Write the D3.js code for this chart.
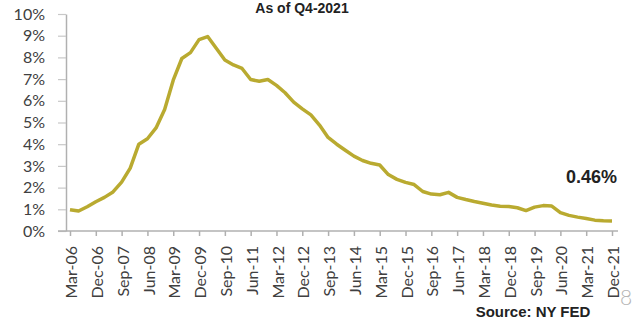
<!DOCTYPE html>
<html>
<head>
<meta charset="utf-8">
<script src="https://cdn.jsdelivr.net/npm/d3@7"></script>
<style>
  body { margin: 0; background: #fff; }
  svg { display: block; }
</style>
</head>
<body>
<div id="VizBox"></div>
<script>

// quarters Mar-06 .. Dec-21
var years = ["06","07","08","09","10","11","12","13","14","15","16","17","18","19","20","21"];
var months = ["Mar","Jun","Sep","Dec"];

// delinquency rate, %
var rates = [
  0.98, 0.92, 1.12, 1.35, 1.55, 1.80, 2.25, 2.90, 4.00, 4.25, 4.75, 5.60, 6.95, 7.95, 8.22, 8.82,
  8.96, 8.42, 7.88, 7.65, 7.49, 6.98, 6.90, 6.98, 6.71, 6.37, 5.94, 5.63, 5.35, 4.88, 4.31, 4.00,
  3.72, 3.45, 3.25, 3.12, 3.04, 2.60, 2.38, 2.24, 2.14, 1.82, 1.70, 1.67, 1.78, 1.55, 1.45, 1.36,
  1.28, 1.20, 1.14, 1.13, 1.07, 0.94, 1.10, 1.17, 1.15, 0.85, 0.72, 0.64, 0.58, 0.50, 0.47, 0.46
];

var yTicks = [0, 1, 2, 3, 4, 5, 6, 7, 8, 9, 10];
var xTickLabels = ["Mar-06","Dec-06","Sep-07","Jun-08","Mar-09","Dec-09","Sep-10","Jun-11",
  "Mar-12","Dec-12","Sep-13","Jun-14","Mar-15","Dec-15","Sep-16","Jun-17","Mar-18","Dec-18",
  "Sep-19","Jun-20","Mar-21","Dec-21"];

var quarters = [];
years.forEach(function(y) { months.forEach(function(m) { quarters.push(m + "-" + y); }); });

var data = quarters.map(function(q, i) { return {q: q, i: i, v: rates[i]}; });

var W = 636, H = 326;
var svg = d3.select("#VizBox").append("svg")
  .attr("width", W).attr("height", H);

var x = d3.scaleLinear().domain([0, quarters.length - 1]).range([70, 612]);
var y = d3.scaleLinear().domain([0, 10]).range([231, 14]);

var axisCol = "#b0b0b0";
var textCol = "#404040";

// Y axis
var yAxis = svg.append("g")
  .attr("transform", "translate(66,0)")
  .call(d3.axisLeft(y).tickValues(yTicks).tickSizeInner(8).tickSizeOuter(0).tickPadding(13)
    .tickFormat(function(d) { return d + "%"; }));
yAxis.select(".domain").attr("stroke", axisCol).attr("stroke-width", 1.5);
yAxis.selectAll(".tick line").attr("stroke", "#c8c8c8").attr("stroke-width", 1.2);
yAxis.selectAll("text")
  .attr("fill", textCol)
  .style("font-family", "Lato, 'Open Sans', sans-serif")
  .style("font-size", "16px");

// X axis
var tickIdx = xTickLabels.map(function(l) { return quarters.indexOf(l); });
var xAxis = svg.append("g")
  .attr("transform", "translate(0," + y(0) + ")")
  .call(d3.axisBottom(x).tickValues(tickIdx).tickSizeInner(5).tickSizeOuter(0)
    .tickFormat(function(d) { return quarters[d]; }));
xAxis.select(".domain").remove();
xAxis.selectAll(".tick line").attr("stroke", axisCol).attr("stroke-width", 1.5);
xAxis.selectAll("text")
  .attr("fill", textCol)
  .style("font-family", "Lato, 'Open Sans', sans-serif")
  .style("font-size", "16px")
  .attr("text-anchor", "end")
  .attr("transform", "rotate(-90)")
  .attr("x", -15).attr("y", 1).attr("dy", "0.35em");
svg.append("line")
  .attr("x1", 58).attr("x2", x(quarters.length - 1) + 6)
  .attr("y1", y(0)).attr("y2", y(0))
  .attr("stroke", axisCol).attr("stroke-width", 1.5);

// line
var line = d3.line()
  .x(function(d) { return x(d.i); })
  .y(function(d) { return y(d.v); });

svg.append("path")
  .datum(data)
  .attr("fill", "none")
  .attr("stroke", "#b9aa30")
  .attr("stroke-width", 3.5)
  .attr("stroke-linejoin", "round")
  .attr("d", line);

// texts
svg.append("text")
  .attr("x", 302).attr("y", 13)
  .attr("text-anchor", "middle")
  .style("font-family", "'Liberation Sans', Arial, sans-serif")
  .style("font-weight", "bold")
  .style("font-size", "14px")
  .attr("fill", "#222")
  .text("As of Q4-2021");

var last = data[data.length - 1];
svg.append("text")
  .attr("x", x(last.i) + 5).attr("y", 183)
  .attr("text-anchor", "end")
  .style("font-family", "'Liberation Sans', Arial, sans-serif")
  .style("font-weight", "bold")
  .style("font-size", "18px")
  .attr("fill", "#222")
  .text(last.v.toFixed(2) + "%");

svg.append("text")
  .attr("x", 533).attr("y", 317)
  .attr("text-anchor", "middle")
  .style("font-family", "'Liberation Sans', Arial, sans-serif")
  .style("font-weight", "bold")
  .style("font-size", "15px")
  .attr("fill", "#222")
  .text("Source: NY FED");

svg.append("text")
  .attr("x", 620).attr("y", 305)
  .style("font-family", "Lato, sans-serif")
  .style("font-weight", "300")
  .style("font-size", "21px")
  .attr("fill", "#b5b5b5")
  .text("8");

</script>
</body>
</html>
